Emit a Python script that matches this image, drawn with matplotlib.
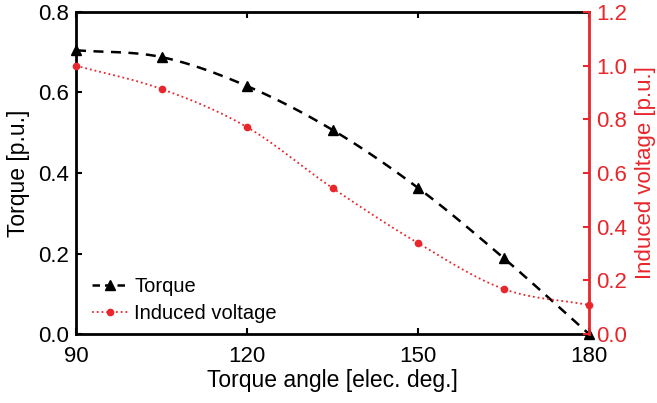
import matplotlib
matplotlib.use('Agg')
import matplotlib.pyplot as plt
import numpy as np

plt.rcParams['font.family'] = ['Liberation Sans', 'DejaVu Sans']

angle = [90, 105, 120, 135, 150, 165, 180]
torque = [0.705, 0.688, 0.616, 0.507, 0.363, 0.189, 0.0]
voltage = [1.0, 0.913, 0.771, 0.544, 0.339, 0.168, 0.108]

RED = '#e8262b'


def smooth(x, y, n=20):
  # catmull-rom curve through the measured points, for drawing only
  x = np.asarray(x, float)
  y = np.asarray(y, float)
  px = np.concatenate([[2 * x[0] - x[1]], x, [2 * x[-1] - x[-2]]])
  py = np.concatenate([[2 * y[0] - y[1]], y, [2 * y[-1] - y[-2]]])
  xs, ys = [], []
  t = np.linspace(0, 1, n, endpoint=False)
  for i in range(1, len(px) - 2):
    for p, out in ((px, xs), (py, ys)):
      p0, p1, p2, p3 = p[i - 1], p[i], p[i + 1], p[i + 2]
      out.append(0.5 * (2 * p1 + (-p0 + p2) * t + (2 * p0 - 5 * p1 + 4 * p2 - p3) * t ** 2
                        + (-p0 + 3 * p1 - 3 * p2 + p3) * t ** 3))
  xs.append([x[-1]])
  ys.append([y[-1]])
  return np.concatenate(xs), np.concatenate(ys)


fig = plt.figure(figsize=(6.57, 4.03), dpi=100)
ax = fig.add_axes([76 / 657, 1 - 334 / 403, (589 - 76) / 657, (334 - 12) / 403])
ax2 = ax.twinx()

sx, sy = smooth(angle, torque)
ax.plot(sx, sy, color='k', linestyle=(0, (4, 3)), linewidth=1.8, zorder=3)
ax.plot(angle, torque, linestyle='none', marker='^', color='k', markersize=7.5, zorder=4, clip_on=False)

vx, vy = smooth(angle, voltage)
ax2.plot(vx, vy, color=RED, linestyle=':', linewidth=1.3)
ax2.plot(angle, voltage, linestyle='none', marker='o', color=RED, markersize=4.5, clip_on=False)

ax.set_xlim(90, 180)
ax.set_ylim(0, 0.8)
ax2.set_ylim(0, 1.2)
ax.set_xticks([90, 120, 150, 180])
ax.set_yticks(np.arange(0, 0.81, 0.2))
ax2.set_yticks(np.arange(0, 1.21, 0.2))
ax.yaxis.set_major_formatter(matplotlib.ticker.FormatStrFormatter('%.1f'))
ax2.yaxis.set_major_formatter(matplotlib.ticker.FormatStrFormatter('%.1f'))

ax.tick_params(direction='in', length=4, width=1.5, labelsize=16, top=True)
ax.tick_params(axis='x', pad=9)
ax.tick_params(axis='y', pad=5)
ax2.tick_params(direction='in', length=4, width=1.5, labelsize=16, colors=RED, pad=5)

for s in ['left', 'bottom', 'top']:
  ax.spines[s].set_linewidth(2)
ax2.spines['right'].set_color(RED)
ax2.spines['right'].set_linewidth(2)
for s in ['left', 'bottom', 'top']:
  ax2.spines[s].set_visible(False)

ax.set_xlabel('Torque angle [elec. deg.]', fontsize=16.5, labelpad=1)
ax.set_ylabel('Torque [p.u.]', fontsize=16.5, labelpad=6)
ax2.set_ylabel('Induced voltage [p.u.]', fontsize=16, color=RED, labelpad=6)

h1 = plt.Line2D([], [], color='k', linestyle=(0, (3, 2)), linewidth=1.8, marker='^', markersize=7)
h2 = plt.Line2D([], [], color=RED, linestyle=':', linewidth=1.3, marker='o', markersize=4.5)
ax.legend([h1, h2], ['Torque', 'Induced voltage'], loc='lower left', frameon=False,
          fontsize=14.5, handlelength=1.8, handletextpad=0.3, labelspacing=0.4,
          borderaxespad=0.4, bbox_to_anchor=(0.0, -0.015))

fig.savefig('out.png', dpi=100)
